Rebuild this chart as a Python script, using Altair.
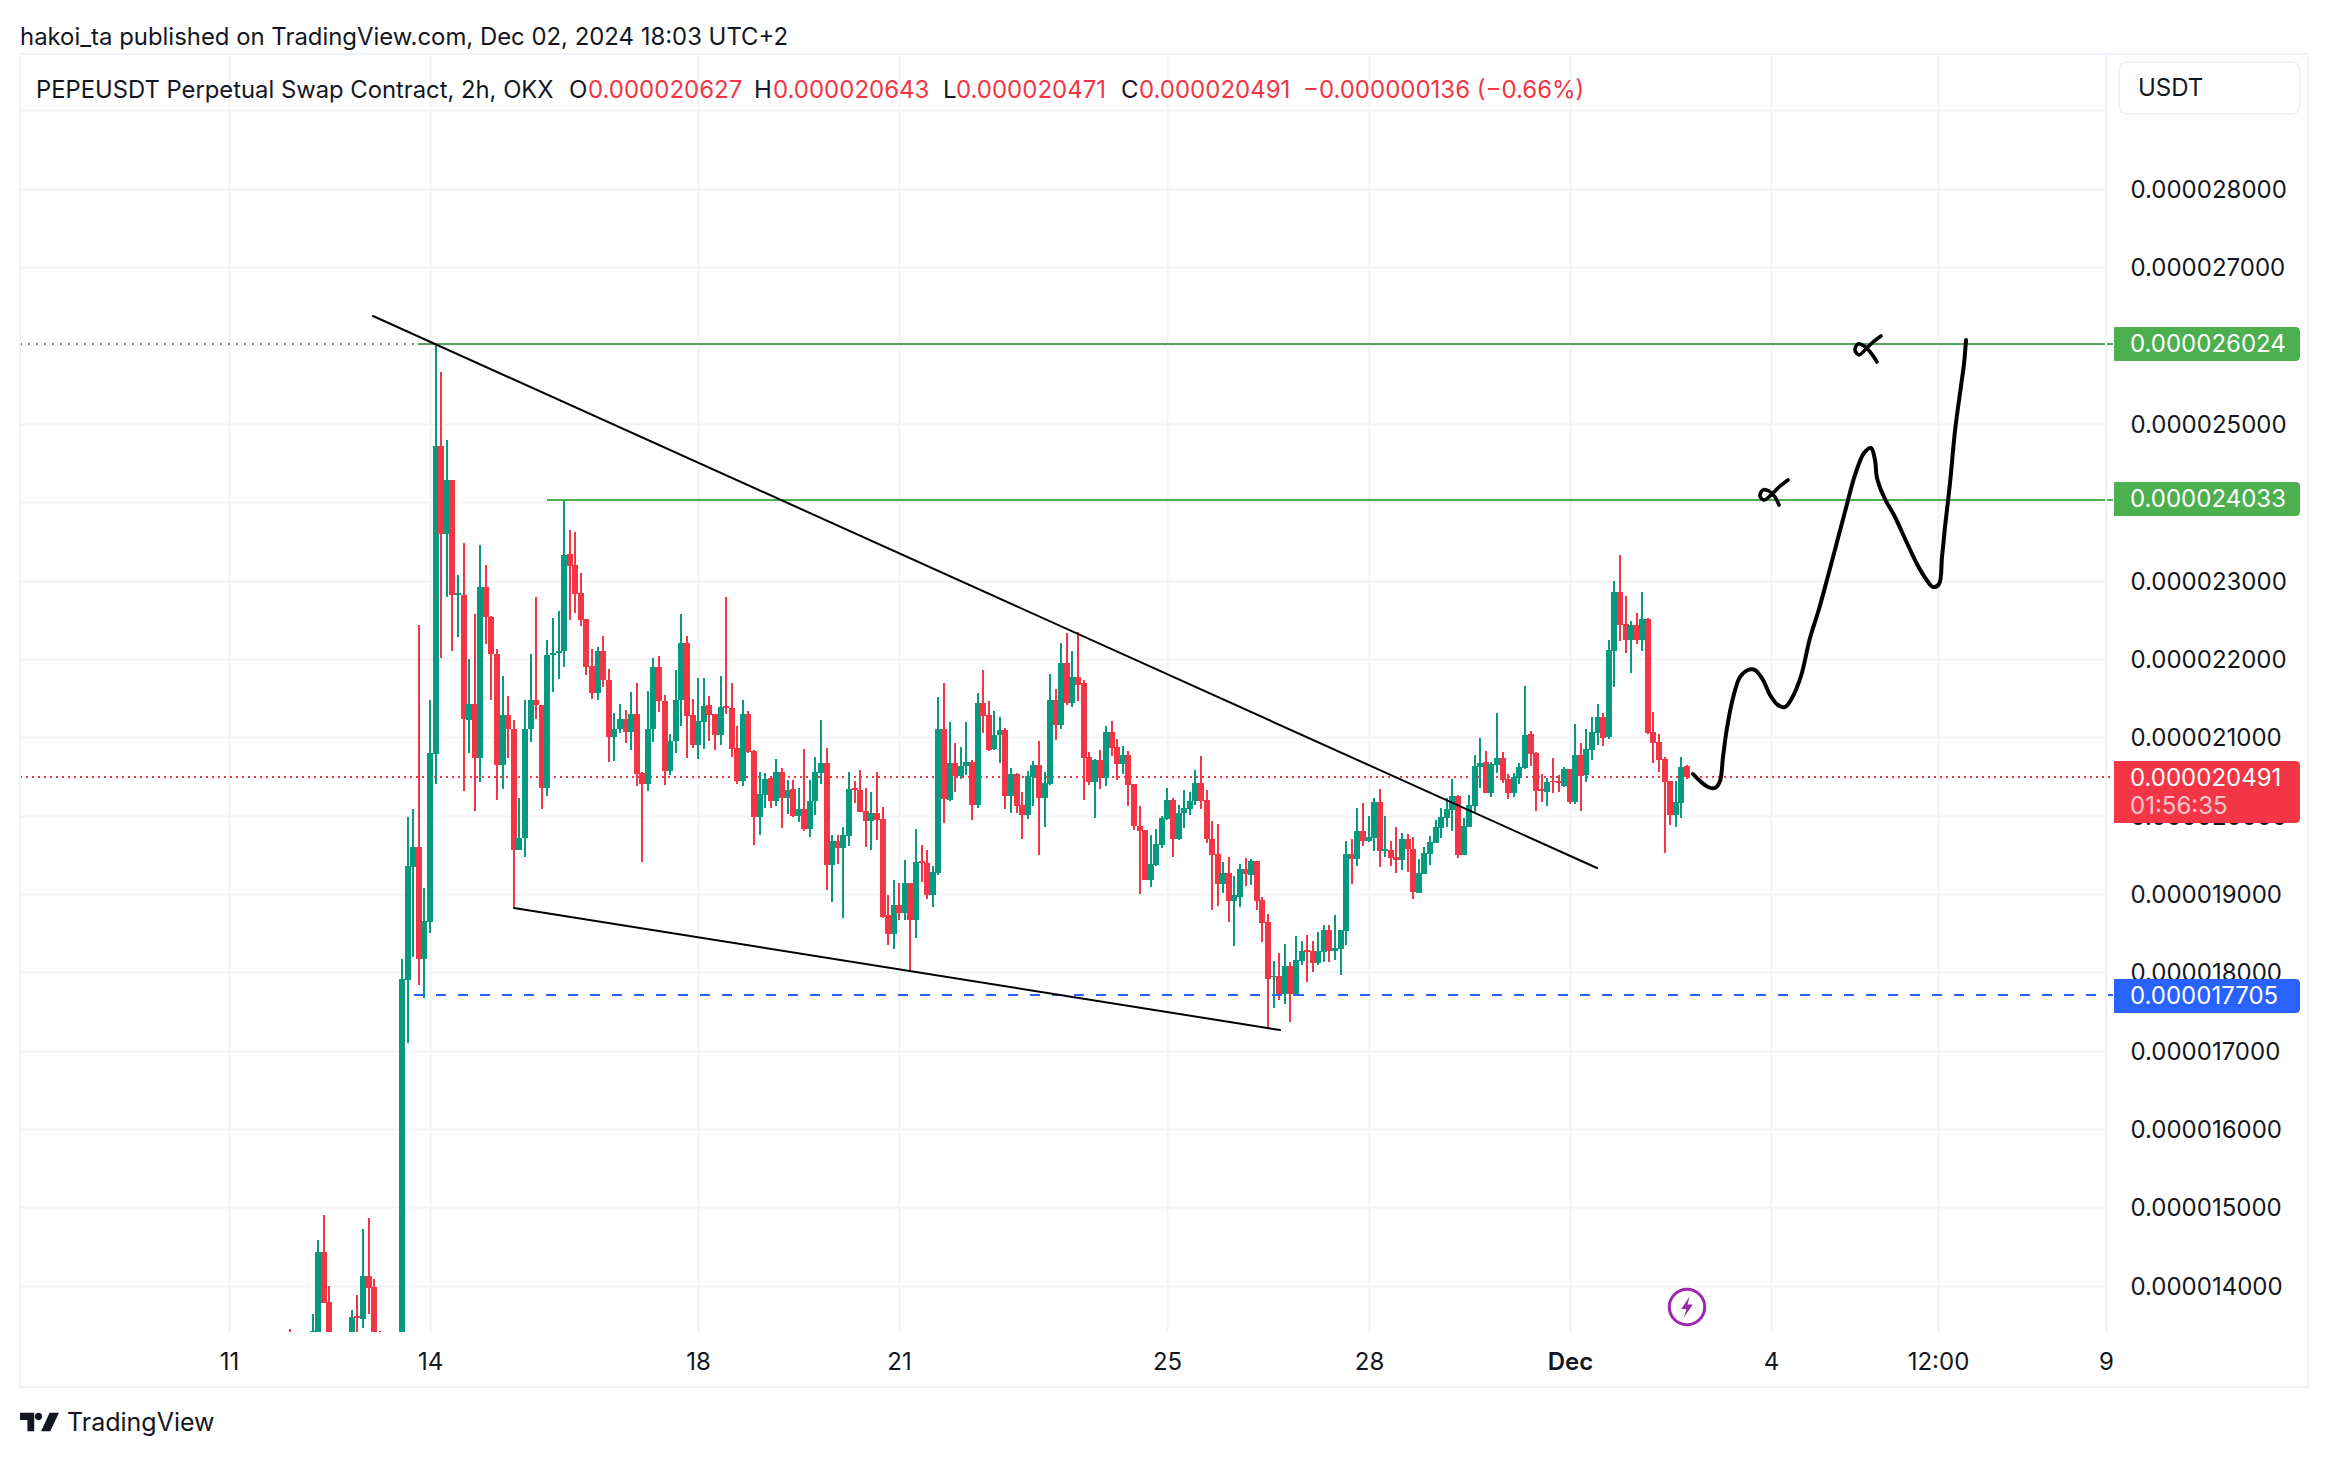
import altair as alt
import pandas as pd

FONT = "Inter"
INK = "#131722"
GREEN = "#089981"
RED = "#F23645"
LINE_GREEN = "#4CAF50"
BLUE = "#2962FF"
GRID = "#F3F3F3"
BORDER = "#F0F3FA"
PURPLE = "#9C27B0"
FS = 24

# OHLC in billionths of a USDT, 2h bars, first bar at day 11 + 22:00
first_bar_day = 11 + 22 / 24
opens = [
13350,13200,13150,13100,13300,13300,14430,13792,13200,13150,13100,13250,13613,13575,14123,13983,13200,13100,13150,13200,13300,
17901,19348,19599,18169,18642,20790,24716,23599,24283,22819,22819,21224,21423,20734,22916,22534,22061,20648,21281,21099,19555,19720,21099,21480,21412,20358,22050,22070,22100,
23337,23195,22842,22506,21907,21566,22101,21736,21007,21110,21229,21070,21298,20540,20409,21110,21896,21463,20569,20956,
21475,22203,21284,20901,21194,21411,21296,21028,21399,21373,20863,20441,21296,20828,19986,20263,20480,20190,20556,20224,20339,19995,20084,19829,20186,20543,20671,19369,19676,19590,19740,20347,20327,20058,19931,20033,19957,18731,18489,18859,18761,19140,18667,19416,19395,18987,19267,21105,20199,20671,20505,20633,20684,20135,21437,21284,20850,21028,21092,20250,20531,20135,20007,20492,20646,20224,20399,21475,21156,21947,21433,21769,21692,20748,20429,20709,20480,21067,20875,20658,20773,20403,19867,19816,19178,19369,
19624,19956,20198,19700,20028,20083,20185,20415,20198,19700,19509,19126,19266,18909,18960,19317,19241,19420,18922,18641,17935,17952,17722,18080,17697,18143,18279,18271,18118,18258,18539,18275,18300,18526,19509,19449,19802,19675,19713,20172,19547,19560,19471,19436,19700,19573,19011,19254,19509,19649,19841,19968,20070,20249,19496,19853,20121,20615,20683,20287,20645,20734,20466,20287,20479,20606,21040,20798,20338,20300,20440,20436,20377,20594,20172,20772,20517,20836,21053,21257,21002,22100,22852,22444,22240,22431,22240,22508,21066,20938,20721,20440,20006,20160,20627,
]
highs = [
13447,13300,13250,13250,13638,14583,14902,13996,13300,13250,13350,13690,13881,14723,14864,14085,13422,13250,13300,13350,18169,
19982,20084,22438,19075,21475,26024,25662,24790,24283,23070,23480,21999,22574,23451,23195,22545,22130,21782,21526,21218,20221,21480,22061,22791,21412,22238,22523,22608,24033,
23645,23617,23092,22506,22124,22152,22289,21868,21309,21423,21349,21577,21691,20557,21588,22010,22038,21537,21042,21856,
22573,22292,21488,21756,21756,21526,21296,21781,22790,21692,21143,21475,21335,20837,20556,20543,20505,20722,20607,20454,20454,20352,20850,20454,20748,21220,20862,19752,19752,19854,20556,20441,20582,20352,20301,20556,20110,18986,19178,19140,19433,19140,19829,19625,19561,19357,21513,21692,21194,20926,20875,21194,20709,21564,21858,21462,21335,21258,21118,20607,20543,20301,20569,20700,20952,20556,21807,21615,22202,22330,22100,22343,21730,20811,20720,20837,21143,21207,20977,20888,20824,20403,20122,19816,19752,19829,
19993,20351,20224,20134,20326,20300,20581,20760,20326,19930,19892,19407,19471,19228,19381,19458,19445,19420,18960,18743,18143,18241,18360,18131,18462,18398,18475,18398,18513,18603,18603,18730,18539,19675,19700,20096,20160,19994,20224,20338,19994,19680,19854,19777,19764,19726,19445,19598,19739,19943,20096,20224,20466,20262,19968,20262,20772,20989,20823,20683,21308,20811,20530,20543,20670,21653,21079,20811,20530,20479,20734,20517,20619,20594,21168,20925,21104,21257,21423,21308,22240,22993,23325,22801,22482,22584,22852,22520,21321,21040,20747,20440,20440,20747,20643,
]
lows = [
13100,13050,13000,13000,13100,13200,13779,13000,13050,13000,13050,13100,13300,13460,13638,13000,13000,13000,13050,13100,13200,
17097,18195,17838,17672,18501,20403,22010,22790,22101,22278,20312,20797,20056,20426,22192,21480,20198,20341,20734,18803,19555,19475,20939,21235,20084,20255,21577,21742,21896,
22494,22591,22414,21794,21492,21480,21645,20683,20694,21053,20928,20836,20381,19412,20312,20939,21321,20392,20523,20797,
21143,20735,20867,20722,20850,20952,20837,20901,21296,20748,20403,20378,20794,19625,19752,20097,20097,20122,19842,20020,19982,19918,19803,19727,20007,20403,19050,18897,19382,18693,19612,20161,20046,19599,19561,19688,18693,18348,18297,18667,18667,18029,18438,19152,18935,18833,19242,19905,20186,20301,20467,20518,19944,20097,21054,20824,20837,20671,20084,20033,20033,19701,19956,20122,19497,19854,20390,20965,21105,21411,21386,21462,20199,20390,19969,20339,20378,20760,20454,20531,20122,19816,19000,19178,19093,19357,
19586,19943,19471,19688,19841,20007,20134,20083,19649,18794,18845,19011,18641,18335,18833,19100,19113,18794,18386,17276,17544,17646,17595,17365,17697,18092,17875,18003,18092,18131,18131,18156,17965,18348,19126,19356,19611,19662,19547,19343,19471,19356,19266,19305,19279,18935,19011,19254,19369,19649,19713,19853,19802,19458,19496,19853,20032,20351,20287,20236,20543,20415,20211,20236,20402,20594,20632,20058,20172,20121,20287,20300,20364,20147,20147,20057,20428,20709,20900,20887,20977,21640,22231,22074,21819,22189,22099,21040,20670,20555,19521,19879,19853,19968,20471,
]
closes = [
13200,13150,13100,13200,13422,14430,13779,13200,13150,13100,13250,13600,13592,14123,13970,13100,13100,13150,13200,13300,17914,
19356,19599,18169,18654,20798,24716,23599,24283,22819,22840,21235,21423,20734,22916,22528,22061,20648,21281,21099,19555,19720,21099,21480,21412,20358,22050,22070,22100,23326,
23184,22830,22500,21896,21566,22101,21725,21007,21110,21229,21070,21298,20529,20409,21110,21896,21463,20569,20956,21475,
22203,21271,20901,21207,21399,21284,21028,21386,21377,20850,20441,21296,20811,19986,20275,20467,20190,20556,20224,20327,19995,20084,19829,20186,20556,20671,19369,19676,19590,19752,20339,20331,20046,19931,20033,19944,18706,18489,18859,18761,19140,18667,19408,19399,18987,19280,21105,20212,20671,20505,20633,20684,20135,21437,21271,20837,21028,21092,20250,20531,20122,20007,20505,20646,20224,20416,21475,21156,21947,21433,21769,21667,20735,20429,20709,20480,21067,20863,20658,20773,20390,19867,19803,19178,19382,19637,
19968,20198,19700,20032,20096,20185,20415,20185,19700,19496,19126,19266,18909,18986,19317,19254,19420,18909,18628,17914,17948,17722,18080,17722,18156,18271,18263,18118,18271,18539,18271,18305,18539,19509,19449,19802,19675,19726,20172,19547,19573,19462,19436,19700,19573,19024,19266,19522,19662,19853,19981,20083,20249,19496,19866,20134,20632,20670,20287,20658,20734,20453,20287,20492,20619,21028,20785,20313,20313,20428,20423,20415,20594,20172,20772,20504,20849,21066,21257,20989,22112,22853,22435,22240,22431,22240,22508,21053,20925,20708,20428,20006,20172,20619,20491,
]
assert len(opens) == len(highs) == len(lows) == len(closes), (len(opens), len(highs), len(lows), len(closes))

price_ticks = list(range(14000, 30000, 1000))
day_ticks = [11, 14, 18, 21, 25, 28, 31, 34, 36.5, 39]
day_labels = {"11": "11", "14": "14", "18": "18", "21": "21", "25": "25", "28": "28",
              "31": "Dec", "34": "4", "36.5": "12:00", "39": "9"}

# Hand-drawn forecast and marks (day, price)
free_d = [32.839,32.950,33.060,33.171,33.237,33.281,33.348,33.436,33.547,33.658,33.768,33.879,33.990,34.100,34.211,34.322,34.455,34.587,34.720,34.853,34.986,35.118,35.251,35.384,35.494,35.561,35.583,35.693,35.848,36.025,36.180,36.313,36.423,36.512,36.556,36.600,36.667,36.755,36.844,36.888,36.910]
free_p = [20536,20441,20366,20347,20441,20745,21123,21502,21768,21863,21863,21730,21540,21408,21389,21502,21787,22260,22639,23056,23492,23928,24345,24629,24686,24534,24307,24060,23814,23473,23208,23018,22923,22961,23302,23681,24250,24913,25481,25766,26069]
mark1_d = [35.649,35.516,35.405,35.317,35.251,35.295,35.384,35.494,35.583]
mark1_p = [26126,26031,25936,25879,25936,26012,25993,25898,25785]
mark2_d = [34.255,34.122,33.990,33.901,33.835,33.879,33.968,34.056,34.122]
mark2_p = [24288,24193,24079,24022,24079,24155,24136,24061,23966]

trend_up_d, trend_up_p = [13.155, 31.411], [26380, 19327]
trend_lo_d, trend_lo_p = [15.252, 26.672], [18820, 17263]

DAY0, DAY1 = 7.884, 39.0
P0, P1 = 13410, 29706
res1, res2, support, last = 26024, 24033, 17705, 20491

n = len(opens)
df = pd.DataFrame({
    "d": [first_bar_day + i / 12 for i in range(n)],
    "o": opens, "h": highs, "l": lows, "c": closes,
})
df["dir"] = ["up" if c >= o else "down" for o, c in zip(opens, closes)]

xs = alt.Scale(domain=[DAY0, DAY1], nice=False, zero=False, round=True, padding=0)
ys = alt.Scale(domain=[P0, P1], nice=False, zero=False, round=True, padding=0)
expr_parts = " : ".join(f"datum.value=={k} ? '{v}'" for k, v in day_labels.items()) + " : ''"
x_axis = alt.Axis(values=day_ticks, labelExpr=expr_parts, title=None, domain=False, ticks=False,
                  grid=True, gridColor=GRID, gridWidth=2, labelFont=FONT, labelFontSize=FS,
                  labelColor=INK, labelPadding=18, labelOverlap=False, labelFlush=False,
                  labelFontWeight={"condition": {"test": "datum.value==31", "value": 600}, "value": 400})
y_axis = alt.Axis(values=price_ticks, orient="right",
                  labelExpr="datum.value >= 29000 ? '' : format(datum.value/1e9,'.9f')",
                  title=None, domain=False, ticks=False, grid=True, gridColor=GRID, gridWidth=2,
                  labelFont=FONT, labelFontSize=FS, labelColor=INK, labelPadding=24, labelOverlap=False,
                  labelAlign="left", labelFlush=False, labelOffset=1)
X = alt.X("d:Q", scale=xs, axis=x_axis)
Y = alt.Y("p:Q", scale=ys, axis=y_axis)
colour = alt.Color("dir:N", scale=alt.Scale(domain=["up", "down"], range=[GREEN, RED]), legend=None)

LINE_END = 2113 - 20  # price lines run on into the price scale, up to their tags

def hline(price, d0, color, width, dash=None):
    frame = pd.DataFrame({"d": [d0], "p": [price]})
    kw = {"strokeDash": dash} if dash else {}
    return alt.Chart(frame).mark_rule(color=color, strokeWidth=width, **kw).encode(
        x=X, x2=alt.value(LINE_END), y=Y)

def poly(ds, ps, width, interp="linear"):
    frame = pd.DataFrame({"d": ds, "p": ps, "i": list(range(len(ds)))})
    return alt.Chart(frame).mark_line(color="#000000", strokeWidth=width, strokeCap="round",
                                      strokeJoin="round", interpolate=interp).encode(x=X, y=Y, order="i:Q")

def txt(text, x, y, color=INK, size=FS, weight=400, opacity=1.0):
    frame = pd.DataFrame({"t": [text]})
    return alt.Chart(frame).mark_text(align="left", baseline="middle", font=FONT, fontSize=size,
                                      fontWeight=weight, color=color, opacity=opacity).encode(
        text="t:N", x=alt.value(x - 20), y=alt.value(y + 1.5 - 55))

def box(x0, x1, y0, y1, **kw):
    frame = pd.DataFrame({"a": [0]})
    return alt.Chart(frame).mark_rect(**kw).encode(
        x=alt.value(x0 - 20), x2=alt.value(x1 - 20), y=alt.value(y0 - 55), y2=alt.value(y1 - 55))

def glyph(path, x, y, size, **kw):
    frame = pd.DataFrame({"a": [0]})
    return alt.Chart(frame).mark_point(shape=path, size=size, **kw).encode(
        x=alt.value(x - 20), y=alt.value(y - 55))

wicks = alt.Chart(df).mark_rule(strokeWidth=2, clip=True).encode(
    x=X, y=alt.Y("l:Q", scale=ys, axis=y_axis), y2="h:Q", color=colour)
df2 = df.assign(top=df[["o", "c"]].max(axis=1), bot=df[["o", "c"]].min(axis=1))
bodies = alt.Chart(df2).mark_bar(size=6, clip=True).encode(
    x=X, y=alt.Y("bot:Q", scale=ys, axis=y_axis), y2="top:Q", color=colour)

bolt = "M0.25,-1 L-0.55,0.2 L-0.05,0.2 L-0.3,1 L0.55,-0.25 L0.05,-0.25 Z"
logo = ("M-1,-0.48 L-0.27,-0.48 L-0.27,0.48 L-0.62,0.48 L-0.62,-0.1 L-1,-0.1 Z "
        "M-0.24,-0.28 A0.19,0.19 0 1,0 0.14,-0.28 A0.19,0.19 0 1,0 -0.24,-0.28 Z "
        "M0.52,-0.48 L1,-0.48 L0.55,0.48 L0.08,0.48 Z")

tag_x0, tag_x1, tag_text = 2114, 2300, 2130
tag_corner = dict(cornerRadiusTopRight=4, cornerRadiusBottomRight=4)

layers = [
    hline(last, DAY0, RED, 2, [2, 4]),
    wicks, bodies,
    hline(res1, 13.82, LINE_GREEN, 2),
    hline(res1, DAY0, "#787B86", 2, [2, 6]),
    hline(res2, 15.748, LINE_GREEN, 2),
    hline(support, 13.76, BLUE, 2, [10, 12]),
    poly(trend_up_d, trend_up_p, 2),
    poly(trend_lo_d, trend_lo_p, 2),
    poly(free_d, free_p, 4, "catmull-rom"),
    poly(mark1_d, mark1_p, 3.6, "catmull-rom"),
    poly(mark2_d, mark2_p, 3.6, "catmull-rom"),
    # frame and price-scale separator
    box(20, 2308, 54, 1387, fill="transparent", stroke=BORDER, strokeWidth=2),
    box(2106, 2106, 54, 1332, stroke=BORDER, strokeWidth=2),
    # USDT button
    box(2119, 2300, 62, 114, fill="#FFFFFF", stroke=BORDER, strokeWidth=2, cornerRadius=8),
    txt("USDT", 2138, 87),
    # price tags
    box(tag_x0, tag_x1, 327, 361, fill=LINE_GREEN, **tag_corner),
    txt("0.000026024", tag_text, 343, "#FFFFFF"),
    box(tag_x0, tag_x1, 482, 516, fill=LINE_GREEN, **tag_corner),
    txt("0.000024033", tag_text, 498, "#FFFFFF"),
    box(tag_x0, tag_x1, 761, 823, fill=RED, **tag_corner),
    txt("0.000020491", tag_text, 777, "#FFFFFF"),
    txt("01:56:35", tag_text, 805, "#FFFFFF", opacity=0.7),
    box(tag_x0, tag_x1, 979, 1013, fill=BLUE, **tag_corner),
    txt("0.000017705", tag_text, 995, "#FFFFFF"),
    # header
    txt("hakoi_ta published on TradingView.com, Dec 02, 2024 18:03 UTC+2", 20, 36, size=23.9),
    txt("PEPEUSDT Perpetual Swap Contract, 2h, OKX", 36, 89, size=23.8),
    txt("O", 569, 89), txt("0.000020627", 588, 89, RED),
    txt("H", 754, 89), txt("0.000020643", 773, 89, RED),
    txt("L", 943, 89), txt("0.000020471", 956, 89, RED),
    txt("C", 1121, 89), txt("0.000020491", 1139, 89, RED),
    txt("\u22120.000000136 (\u22120.66%)", 1303, 89, RED),
    # footer logo and name
    glyph(logo, 39.5, 1422, 1521, filled=True, color=INK, opacity=1, strokeWidth=0),
    txt("TradingView", 67, 1421, size=25),
    # lightning icon
    glyph("circle", 1687, 1307, 1257, filled=False, color=PURPLE, strokeWidth=3, opacity=1),
    glyph(bolt, 1687, 1307, 440, filled=True, color=PURPLE, opacity=1, strokeWidth=0),
]

chart = alt.layer(*layers).resolve_scale(color="independent").properties(
    width=2086, height=1277,
    padding={"left": 12, "top": 47, "right": 212, "bottom": 118},
    autosize=alt.AutoSizeParams(type="none"),
    background="#FFFFFF",
).configure_view(stroke=None)

chart.save("out.html", embed_options={"renderer": "svg", "actions": False})
